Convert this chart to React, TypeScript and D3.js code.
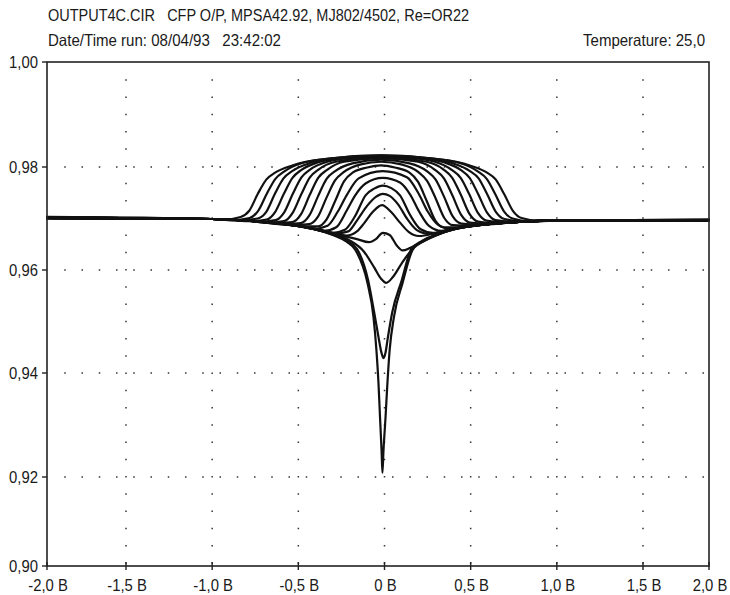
import React from "react";
import * as d3 from "d3";

type P = [number, number];

const TITLE_1 = "OUTPUT4C.CIR   CFP O/P, MPSA42.92, MJ802/4502, Re=OR22";
const TITLE_2 = "Date/Time run: 08/04/93   23:42:02";
const TITLE_3 = "Temperature: 25,0";

const X_TICKS = [-2, -1.5, -1, -0.5, 0, 0.5, 1, 1.5, 2];
const X_LABELS = ["-2,0 B", "-1,5 B", "-1,0 B", "-0,5 B", "0 B", "0,5 B", "1,0 B", "1,5 B", "2,0 B"];
const Y_TICKS = [0.9, 0.92, 0.94, 0.96, 0.98, 1.0];
const Y_LABELS = ["0,90", "0,92", "0,94", "0,96", "0,98", "1,00"];

// Under-biased curves (crossover dips)
const dipDeep: P[] = [[-2,.9702],[-1,.9699],[-0.8,.9696],[-0.6,.9690],[-0.4,.9679],[-0.3,.9668],[-0.22,.9655],[-0.169,.9639],[-0.099,.9575],[-0.064,.9509],[-0.047,.9445],[-0.035,.9381],[-0.026,.9315],[-0.017,.9250],[-0.012,.9208],[-0.006,.9250],[0.006,.9315],[0.017,.9381],[0.03,.9445],[0.055,.9509],[0.105,.9575],[0.163,.9639],[0.22,.9656],[0.3,.9668],[0.4,.9679],[0.6,.9689],[0.8,.9694],[1,.9696],[2,.9697]];
const dipMid: P[] = [[-2,.9701],[-1,.9699],[-0.8,.9696],[-0.6,.9690],[-0.4,.9679],[-0.3,.9669],[-0.22,.9657],[-0.16,.9641],[-0.095,.9580],[-0.06,.9518],[-0.035,.9470],[-0.018,.9440],[-0.006,.9429],[0.006,.9440],[0.02,.9470],[0.045,.9518],[0.1,.9580],[0.155,.9640],[0.22,.9657],[0.3,.9669],[0.4,.9679],[0.6,.9689],[0.8,.9694],[1,.9696],[2,.9697]];
const dipShallow: P[] = [[-2,.9700],[-1,.9699],[-0.8,.9696],[-0.6,.9690],[-0.4,.9679],[-0.3,.9670],[-0.2,.9657],[-0.12,.9636],[-0.06,.9605],[-0.02,.9583],[0.01,.9575],[0.05,.9587],[0.1,.9613],[0.16,.9640],[0.25,.9660],[0.35,.9674],[0.5,.9685],[0.7,.9692],[1,.9696],[2,.9697]];
const wiggle: P[] = [[-2,.9702],[-1,.9699],[-0.8,.9696],[-0.6,.9690],[-0.4,.9679],[-0.25,.9667],[-0.16,.9660],[-0.09,.9654],[-0.05,.9660],[-0.01,.9672],[0.03,.9668],[0.07,.9648],[0.105,.9638],[0.15,.9643],[0.22,.9655],[0.3,.9667],[0.4,.9679],[0.6,.9689],[0.8,.9694],[1,.9696],[2,.9697]];

// Over-biased curves (gain humps / plateaus), inner to outer
const hump0: P[] = [[-2,.9701],[-1,.9699],[-0.8,.9696],[-0.6,.9690],[-0.4,.9680],[-0.3,.9672],[-0.22,.9667],[-0.16,.9675],[-0.12,.9690],[-0.07,.9712],[-0.015,.9726],[0.04,.9712],[0.09,.9692],[0.14,.9674],[0.2,.9666],[0.3,.9672],[0.4,.9680],[0.6,.9689],[0.8,.9694],[1,.9696],[2,.9697]];
const hump1: P[] = [[-2,.9700],[-1,.9699],[-0.8,.9696],[-0.6,.9690],[-0.4,.9680],[-0.28,.9671],[-0.21,.9675],[-0.16,.9696],[-0.1,.9725],[-0.05,.9742],[-0.01,.9748],[0.03,.9744],[0.08,.9727],[0.13,.9700],[0.19,.9677],[0.26,.9670],[0.4,.9680],[0.6,.9689],[0.8,.9694],[1,.9696],[2,.9697]];
const hump2: P[] = [[-2,.9702],[-1,.9699],[-0.8,.9696],[-0.6,.9690],[-0.4,.9680],[-0.3,.9672],[-0.23,.9678],[-0.17,.9705],[-0.11,.9745],[-0.06,.9758],[-0.01,.9764],[0.04,.9759],[0.09,.9745],[0.15,.9706],[0.21,.9679],[0.28,.9672],[0.4,.9680],[0.6,.9689],[0.8,.9694],[1,.9696],[2,.9697]];
const hump3: P[] = [[-2,.9701],[-1,.9699],[-0.8,.9696],[-0.6,.9690],[-0.45,.9683],[-0.35,.9676],[-0.28,.9683],[-0.22,.9715],[-0.17,.9745],[-0.11,.9768],[-0.01,.9779],[0.09,.9770],[0.15,.9746],[0.2,.9714],[0.26,.9685],[0.33,.9676],[0.45,.9683],[0.6,.9689],[0.8,.9694],[1,.9696],[2,.9697]];
const hump4: P[] = [[-2,.9702],[-1,.9699],[-0.8,.9696],[-0.6,.9690],[-0.5,.9686],[-0.41,.9680],[-0.33,.9686],[-0.27,.9714],[-0.22,.9745],[-0.15,.9778],[-0.01,.9792],[0.13,.9780],[0.2,.9747],[0.25,.9714],[0.31,.9688],[0.38,.9680],[0.5,.9686],[0.6,.9689],[0.8,.9694],[1,.9696],[2,.9697]];
const hump5: P[] = [[-2,.9701],[-1,.9699],[-0.8,.9696],[-0.6,.9690],[-0.485,.9685],[-0.385,.9685],[-0.335,.9699],[-0.285,.9735],[-0.235,.9772],[-0.185,.9789],[-0.1,.9799],[-0.02,.9803],[0.06,.9799],[0.145,.9789],[0.195,.9771],[0.245,.9734],[0.295,.9696],[0.345,.9683],[0.445,.9683],[0.6,.9689],[0.8,.9694],[1,.9696],[2,.9697]];
const flat6: P[] = [[-2,.9702],[-1,.9699],[-0.8,.9696],[-0.537,.9687],[-0.437,.9689],[-0.387,.9703],[-0.337,.9740],[-0.287,.9774],[-0.237,.9790],[-0.137,.9805],[-0.02,.9810],[0.097,.9805],[0.197,.9790],[0.247,.9773],[0.297,.9739],[0.347,.9701],[0.397,.9687],[0.497,.9686],[0.6,.9689],[0.8,.9694],[1,.9696],[2,.9697]];
const flat7: P[] = [[-2,.9701],[-1,.9699],[-0.8,.9696],[-0.586,.9689],[-0.486,.9691],[-0.436,.9706],[-0.386,.9743],[-0.336,.9777],[-0.286,.9792],[-0.186,.9807],[-0.02,.9814],[0.146,.9807],[0.246,.9792],[0.296,.9776],[0.346,.9742],[0.396,.9704],[0.446,.9690],[0.546,.9688],[0.8,.9694],[1,.9696],[2,.9697]];
const flat8: P[] = [[-2,.9703],[-1,.9699],[-0.8,.9696],[-0.635,.9691],[-0.535,.9693],[-0.485,.9708],[-0.435,.9745],[-0.385,.9779],[-0.335,.9794],[-0.235,.9810],[-0.02,.9817],[0.195,.9810],[0.295,.9794],[0.345,.9778],[0.395,.9744],[0.445,.9707],[0.495,.9692],[0.595,.9690],[0.8,.9694],[1,.9696],[2,.9698]];
const flat9: P[] = [[-2,.9701],[-1,.9699],[-0.8,.9696],[-0.683,.9692],[-0.583,.9695],[-0.533,.9711],[-0.483,.9747],[-0.433,.9780],[-0.383,.9795],[-0.283,.9810],[-0.02,.9819],[0.243,.9810],[0.343,.9795],[0.393,.9779],[0.443,.9746],[0.493,.9709],[0.543,.9694],[0.643,.9691],[0.8,.9694],[1,.9696],[2,.9697]];
const flat10: P[] = [[-2,.9702],[-1,.9699],[-0.85,.9697],[-0.732,.9694],[-0.632,.9697],[-0.582,.9712],[-0.532,.9748],[-0.482,.9780],[-0.432,.9795],[-0.332,.9810],[-0.17,.9818],[-0.02,.9820],[0.13,.9818],[0.292,.9810],[0.392,.9794],[0.442,.9779],[0.492,.9747],[0.542,.9711],[0.592,.9696],[0.692,.9693],[1,.9696],[2,.9697]];
const flat11: P[] = [[-2,.9701],[-1,.9699],[-0.784,.9695],[-0.684,.9698],[-0.634,.9713],[-0.584,.9748],[-0.534,.9779],[-0.484,.9794],[-0.384,.9809],[-0.22,.9818],[-0.02,.9821],[0.18,.9818],[0.344,.9809],[0.444,.9794],[0.494,.9779],[0.544,.9747],[0.594,.9712],[0.644,.9697],[0.744,.9694],[1,.9696],[2,.9698]];
const flat12: P[] = [[-2,.9702],[-1,.9699],[-0.836,.9697],[-0.736,.9700],[-0.686,.9713],[-0.636,.9748],[-0.586,.9778],[-0.536,.9792],[-0.436,.9807],[-0.32,.9815],[-0.02,.9821],[0.28,.9815],[0.396,.9807],[0.496,.9792],[0.546,.9778],[0.596,.9747],[0.646,.9713],[0.696,.9699],[0.796,.9695],[1,.9696],[2,.9697]];
const flat13: P[] = [[-2,.9700],[-1,.9699],[-0.883,.9697],[-0.783,.9701],[-0.733,.9715],[-0.683,.9748],[-0.633,.9777],[-0.583,.9791],[-0.483,.9807],[-0.32,.9816],[-0.02,.9822],[0.28,.9816],[0.443,.9807],[0.543,.9791],[0.593,.9777],[0.643,.9747],[0.693,.9714],[0.743,.9700],[0.843,.9695],[1,.9696],[2,.9697]];
const flat14: P[] = [[-2,.9702],[-1,.9699],[-0.935,.9698],[-0.835,.9703],[-0.785,.9715],[-0.735,.9748],[-0.685,.9776],[-0.635,.9789],[-0.535,.9803],[-0.32,.9816],[-0.02,.9822],[0.28,.9816],[0.495,.9803],[0.595,.9789],[0.645,.9776],[0.695,.9747],[0.745,.9715],[0.795,.9701],[0.895,.9696],[1,.9697],[2,.9697]];

const SERIES: P[][] = [dipDeep, dipMid, dipShallow, wiggle, hump0, hump1, hump2, hump3, hump4, hump5, flat6, flat7, flat8, flat9, flat10, flat11, flat12, flat13, flat14];

const W = 730;
const H = 595;
const LEFT = 47, RIGHT = 709, TOP = 62, BOTTOM = 566;
const SQUEEZE = 0.9;

function Narrow(props: { x: number; y: number; anchor?: "start" | "middle" | "end"; size: number; children: string }) {
  const { x, y, anchor = "start", size, children } = props;
  return (
    <text
      transform={`translate(${x},${y}) scale(${SQUEEZE},1)`}
      fontSize={size}
      fill="#1a1a1a"
      textAnchor={anchor}
      style={{ whiteSpace: "pre" }}
    >
      {children}
    </text>
  );
}

export default function App() {
  const x = d3.scaleLinear().domain([-2, -1.5, 1.5, 2]).range([LEFT, 126, 643, RIGHT]);
  const y = d3.scaleLinear().domain([0.9, 0.92, 0.94, 0.96, 0.98, 1.0]).range([BOTTOM, 477, 373, 270, 167, TOP]);
  const line = d3.line<P>().x((d) => x(d[0])).y((d) => y(d[1])).curve(d3.curveMonotoneX);
  const font = "'Liberation Sans', Arial, Helvetica, sans-serif";
  const dotPeriod = 17.25;

  return (
    <svg width={W} height={H} style={{ position: "absolute", left: 0, top: 0, background: "#fff" }} fontFamily={font}>
      <rect x={0} y={0} width={W} height={H} fill="#fff" />
      {/* titles */}
      <text x={48} y={21} fontSize={16.5} fill="#1a1a1a" textLength={421} lengthAdjust="spacingAndGlyphs" style={{ whiteSpace: "pre" }}>{TITLE_1}</text>
      <text x={48} y={46} fontSize={16.5} fill="#1a1a1a" textLength={233} lengthAdjust="spacingAndGlyphs" style={{ whiteSpace: "pre" }}>{TITLE_2}</text>
      <text x={705} y={46} fontSize={16.5} fill="#1a1a1a" textAnchor="end" textLength={122} lengthAdjust="spacingAndGlyphs">{TITLE_3}</text>

      {/* dotted grid */}
      {Y_TICKS.filter((t) => t > 0.9 && t < 1.0).map((t) => (
        <line key={"gy" + t} x1={LEFT + dotPeriod} x2={RIGHT} y1={y(t)} y2={y(t)} stroke="#333" strokeWidth={1.5} strokeDasharray={`1.5 ${dotPeriod - 1.5}`} />
      ))}
      {X_TICKS.filter((t) => t > -2 && t < 2).map((t) => (
        <line key={"gx" + t} x1={x(t)} x2={x(t)} y1={TOP + dotPeriod} y2={BOTTOM} stroke="#333" strokeWidth={1.5} strokeDasharray={`1.5 ${dotPeriod - 1.5}`} />
      ))}

      {/* curves */}
      <g fill="none" stroke="#111" strokeWidth={2.2} strokeLinejoin="round" strokeLinecap="round">
        {SERIES.map((s, i) => (
          <path key={i} d={line(s) || ""} />
        ))}
      </g>

      {/* frame */}
      <rect x={LEFT} y={TOP} width={RIGHT - LEFT} height={BOTTOM - TOP} fill="none" stroke="#222" strokeWidth={1.6} />

      {/* x ticks & labels */}
      {X_TICKS.map((t, i) => (
        <g key={"xt" + t}>
          <line x1={x(t)} x2={x(t)} y1={562} y2={570} stroke="#222" strokeWidth={1.4} />
          <Narrow x={x(t) + 1} y={591} anchor="middle" size={16.5}>{X_LABELS[i]}</Narrow>
        </g>
      ))}
      {/* y ticks & labels */}
      {Y_TICKS.map((t, i) => (
        <g key={"yt" + t}>
          <line x1={42} x2={LEFT} y1={y(t)} y2={y(t)} stroke="#222" strokeWidth={1.4} />
          <Narrow x={38} y={y(t) + 6} anchor="end" size={16.5}>{Y_LABELS[i]}</Narrow>
        </g>
      ))}
    </svg>
  );
}
